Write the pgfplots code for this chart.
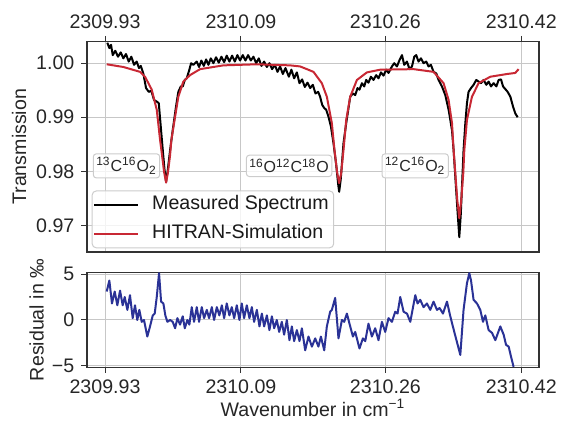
\documentclass[border=0pt]{standalone}
\usepackage{fontspec}
\setmainfont{Liberation Sans}
\usepackage{pgfplots}
\usepackage{pgfplotstable}
\pgfplotsset{compat=1.18}

\definecolor{simred}{RGB}{200,40,52}
\definecolor{resblue}{RGB}{42,50,150}

% x column: wavenumber minus 2310 cm^-1 (keeps TeX's float precision usable)
\pgfplotstableread{
x y
-0.0673 1.0038
-0.0649 1.0028
-0.0629 1.0034
-0.0609 1.0015
-0.0579 1.0023
-0.0547 1.0012
-0.0515 1.0020
-0.0484 1.0009
-0.0453 1.0017
-0.0421 1.0003
-0.0390 1.0012
-0.0358 0.9997
-0.0327 1.0003
-0.0300 0.9991
-0.0279 0.9995
-0.0249 0.9981
-0.0217 0.9954
-0.0185 0.9947
-0.0155 0.9949
-0.0123 0.9932
-0.0091 0.9929
-0.0067 0.9926
-0.0044 0.9883
-0.0020 0.9839
0.0001 0.9802
0.0019 0.9781
0.0036 0.9799
0.0066 0.9839
0.0097 0.9876
0.0136 0.9920
0.0163 0.9947
0.0192 0.9957
0.0215 0.9957
0.0239 0.9969
0.0262 0.9972
0.0293 0.9988
0.0313 1.0000
0.0340 0.9997
0.0380 1.0003
0.0407 0.9993
0.0434 1.0005
0.0463 0.9995
0.0490 1.0007
0.0517 0.9997
0.0545 1.0009
0.0576 1.0000
0.0607 1.0011
0.0639 1.0001
0.0670 1.0012
0.0702 1.0002
0.0733 1.0014
0.0764 1.0003
0.0796 1.0014
0.0828 1.0003
0.0858 1.0015
0.0890 1.0005
0.0922 1.0015
0.0953 1.0005
0.0984 1.0015
0.1016 1.0005
0.1047 1.0012
0.1079 1.0000
0.1110 1.0009
0.1141 0.9995
0.1173 1.0003
0.1205 0.9993
0.1235 1.0000
0.1267 0.9989
0.1299 0.9997
0.1330 0.9984
0.1361 0.9994
0.1393 0.9980
0.1424 0.9991
0.1464 0.9975
0.1494 0.9988
0.1526 0.9972
0.1558 0.9983
0.1589 0.9963
0.1620 0.9970
0.1652 0.9956
0.1683 0.9964
0.1715 0.9954
0.1746 0.9960
0.1777 0.9944
0.1809 0.9947
0.1832 0.9938
0.1856 0.9923
0.1880 0.9917
0.1903 0.9914
0.1930 0.9901
0.1959 0.9883
0.1989 0.9852
0.2021 0.9812
0.2045 0.9775
0.2056 0.9762
0.2074 0.9784
0.2092 0.9821
0.2107 0.9852
0.2139 0.9889
0.2166 0.9917
0.2186 0.9938
0.2218 0.9944
0.2245 0.9941
0.2272 0.9954
0.2295 0.9951
0.2324 0.9963
0.2351 0.9957
0.2374 0.9969
0.2401 0.9964
0.2430 0.9975
0.2460 0.9969
0.2492 0.9978
0.2519 0.9972
0.2548 0.9983
0.2578 0.9977
0.2610 0.9988
0.2637 0.9982
0.2677 0.9994
0.2704 1.0000
0.2736 0.9994
0.2767 1.0006
0.2795 1.0015
0.2822 0.9997
0.2854 1.0003
0.2884 0.9989
0.2913 0.9994
0.2940 1.0012
0.2963 1.0015
0.2990 1.0003
0.3019 1.0009
0.3049 1.0000
0.3081 1.0003
0.3108 0.9994
0.3136 0.9997
0.3167 0.9984
0.3199 0.9981
0.3226 0.9969
0.3266 0.9957
0.3305 0.9941
0.3344 0.9914
0.3384 0.9876
0.3403 0.9839
0.3429 0.9775
0.3452 0.9719
0.3470 0.9678
0.3487 0.9719
0.3505 0.9784
0.3520 0.9839
0.3541 0.9889
0.3560 0.9926
0.3579 0.9947
0.3608 0.9954
0.3638 0.9960
0.3670 0.9969
0.3697 0.9966
0.3725 0.9963
0.3756 0.9969
0.3788 0.9960
0.3815 0.9966
0.3843 0.9957
0.3874 0.9963
0.3906 0.9957
0.3933 0.9969
0.3961 0.9970
0.3985 0.9957
0.4012 0.9952
0.4039 0.9947
0.4071 0.9938
0.4102 0.9920
0.4129 0.9907
0.4157 0.9900
}\measured

\pgfplotstableread{
x y
-0.0680 0.9998
-0.0484 0.9993
-0.0288 0.9984
-0.0229 0.9975
-0.0150 0.9951
-0.0091 0.9914
-0.0052 0.9858
-0.0029 0.9830
-0.0005 0.9799
0.0019 0.9779
0.0042 0.9799
0.0066 0.9830
0.0081 0.9858
0.0125 0.9901
0.0163 0.9938
0.0222 0.9966
0.0301 0.9978
0.0419 0.9989
0.0693 0.9996
0.1087 0.9998
0.1479 0.9996
0.1597 0.9994
0.1754 0.9984
0.1852 0.9963
0.1911 0.9938
0.1970 0.9889
0.2001 0.9839
0.2033 0.9797
0.2056 0.9778
0.2080 0.9797
0.2107 0.9839
0.2139 0.9895
0.2186 0.9938
0.2265 0.9969
0.2383 0.9983
0.2539 0.9988
0.2932 0.9989
0.3167 0.9984
0.3285 0.9963
0.3344 0.9932
0.3384 0.9889
0.3403 0.9839
0.3423 0.9797
0.3446 0.9747
0.3470 0.9713
0.3493 0.9747
0.3517 0.9797
0.3529 0.9839
0.3560 0.9895
0.3619 0.9938
0.3697 0.9963
0.3835 0.9975
0.4032 0.9980
0.4129 0.9982
0.4168 0.9989
}\hitran

\pgfplotstableread{
x r
-0.0680 3.1
-0.0649 4.3
-0.0618 1.8
-0.0586 3.1
-0.0555 1.6
-0.0523 3.2
-0.0492 1.6
-0.0468 2.5
-0.0437 1.1
-0.0406 2.7
-0.0374 0.2
-0.0347 1.6
-0.0320 0.0
-0.0296 1.1
-0.0268 -0.2
-0.0241 0.0
-0.0202 -1.8
-0.0170 -0.7
-0.0138 0.5
-0.0115 0.7
-0.0091 2.5
-0.0064 5.1
-0.0040 2.0
-0.0013 1.8
0.0010 0.5
0.0034 -0.2
0.0066 0.0
0.0097 -0.2
0.0125 -0.9
0.0152 0.2
0.0183 -0.5
0.0215 0.4
0.0239 -0.9
0.0269 0.0
0.0293 -0.5
0.0321 1.4
0.0348 -0.2
0.0380 1.4
0.0407 -0.2
0.0439 1.4
0.0466 0.2
0.0498 1.1
0.0525 0.2
0.0557 1.4
0.0584 0.0
0.0616 1.4
0.0646 0.5
0.0675 1.6
0.0702 0.2
0.0733 1.8
0.0764 0.5
0.0792 1.4
0.0820 0.2
0.0851 1.6
0.0882 0.0
0.0910 1.8
0.0937 0.2
0.0969 1.6
0.1000 0.2
0.1028 1.4
0.1055 -0.2
0.1087 1.1
0.1118 -0.7
0.1146 0.7
0.1173 -0.7
0.1205 0.5
0.1235 -1.1
0.1264 0.4
0.1291 -0.9
0.1322 0.0
0.1350 -1.3
0.1381 -0.2
0.1408 -1.6
0.1440 0.0
0.1471 -2.2
0.1499 -0.7
0.1526 -2.3
0.1558 -1.1
0.1589 -2.3
0.1617 -0.9
0.1656 -3.3
0.1695 -1.8
0.1735 -2.9
0.1774 -2.0
0.1812 -2.9
0.1841 -1.8
0.1880 -3.3
0.1911 -0.7
0.1950 0.9
0.1970 1.1
0.2009 2.4
0.2048 -2.0
0.2088 0.0
0.2115 -0.2
0.2147 0.7
0.2186 -0.7
0.2218 -1.8
0.2245 -1.3
0.2295 -3.1
0.2335 -2.0
0.2363 -2.3
0.2401 -0.4
0.2441 -1.8
0.2480 -0.9
0.2519 -2.2
0.2559 -0.2
0.2598 -1.3
0.2637 0.2
0.2677 -0.2
0.2716 0.9
0.2743 0.7
0.2775 2.5
0.2814 0.9
0.2854 0.7
0.2893 -0.2
0.2952 2.7
0.2979 1.8
0.3010 2.2
0.3049 1.4
0.3089 1.8
0.3128 1.1
0.3167 2.0
0.3207 1.1
0.3238 1.3
0.3278 0.7
0.3325 2.0
0.3364 0.4
0.3411 -1.3
0.3482 -3.8
0.3520 1.1
0.3560 4.0
0.3588 5.1
0.3608 4.3
0.3638 2.2
0.3678 1.8
0.3717 1.1
0.3749 -0.2
0.3776 0.5
0.3815 -1.1
0.3855 -1.4
0.3894 -2.2
0.3953 -0.7
0.3992 -1.6
0.4020 -2.7
0.4051 -2.9
0.4079 -4.0
0.4109 -5.1
}\residual

\pgfplotsset{
  specaxis/.style={
    width=226pt, scale only axis,
    xmin=-0.0912, xmax=0.4408,
    xtick={-0.07,0.09,0.26,0.42},
    xticklabels={2309.93,2310.09,2310.26,2310.42},
    grid=major,
    major grid style={black!22, line width=0.5pt},
    axis line style={black!80, line width=0.65pt},
    tick style={black!80, line width=0.5pt},
    tick align=outside,
    major tick length=2.8pt,
    ytick pos=left,
    /pgf/number format/assume math mode=true,
    tick label style={font=\fontsize{9.8}{11}\selectfont, text=black!85},
    label style={font=\fontsize{9.8}{11}\selectfont, text=black!85},
  },
}
\tikzset{
  lblbox/.style={draw=black!20, line width=0.5pt, fill=white, fill opacity=0.8,
    text opacity=1, rounded corners=1.5pt, inner xsep=1.5pt, inner ysep=1.8pt,
    font=\fontsize{8}{9}\selectfont, text=black!85},
}

\begin{document}
\begin{tikzpicture}
\useasboundingbox (-43.5pt,-84.5pt) rectangle (237.5pt,126pt);

\begin{axis}[specaxis,
  at={(0,0)}, anchor=south west, height=105.2pt,
  ymin=0.96506, ymax=1.004,
  ytick={0.97,0.98,0.99,1.00}, yticklabels={0.97,0.98,0.99,1.00},
  xtick pos=right, xticklabel pos=right,
  ylabel={Transmission},
  ylabel style={at={(axis description cs:-0.150,0.5)}, anchor=center},
  legend cell align=left,
  legend image code/.code={\draw[#1] (0pt,0pt) -- (22pt,0pt);},
  legend style={at={(0.0104,0.0176)}, anchor=south west,
    draw=black!20, line width=0.5pt, rounded corners=2pt,
    fill=white, fill opacity=0.8, text opacity=1, draw opacity=1,
    font=\fontsize{9.8}{11}\selectfont, text=black!90,
    inner xsep=0.5pt, inner ysep=0.3pt, row sep=1pt,
    /tikz/every odd column/.append style={column sep=4.5pt},
    nodes={inner sep=2pt, text height=7.2pt, text depth=2.2pt}},
]
\addplot[black, line width=1pt, line join=round] table[x=x, y=y] {\measured};
\addplot[simred, line width=1pt, line join=round] table[x=x, y=y] {\hitran};
\legend{Measured Spectrum, HITRAN-Simulation}

\node[lblbox] at (axis cs:-0.0447,0.981) {\textsuperscript{13}C\textsuperscript{16}O\textsubscript{2}};
\node[lblbox] at (axis cs:0.1467,0.981) {\textsuperscript{16}O\textsuperscript{12}C\textsuperscript{18}O};
\node[lblbox] at (axis cs:0.2951,0.981) {\textsuperscript{12}C\textsuperscript{16}O\textsubscript{2}};
\end{axis}

\begin{axis}[specaxis,
  at={(0,-10.35pt)}, anchor=north west, height=47.3pt,
  ymin=-5.15, ymax=5.15,
  ytick={-5,0,5}, yticklabels={−5,0,5},
  xtick pos=left, xticklabel pos=left,
  ylabel={Residual in ‰},
  ylabel style={at={(axis description cs:-0.1117,0.5)}, anchor=center},
  xlabel={Wavenumber in cm\textsuperscript{−1}},
  xlabel style={at={(axis description cs:0.5,-0.43)}, anchor=center},
]
\addplot[resblue, line width=1pt, line join=round] table[x=x, y=r] {\residual};
\end{axis}
\end{tikzpicture}
\end{document}
